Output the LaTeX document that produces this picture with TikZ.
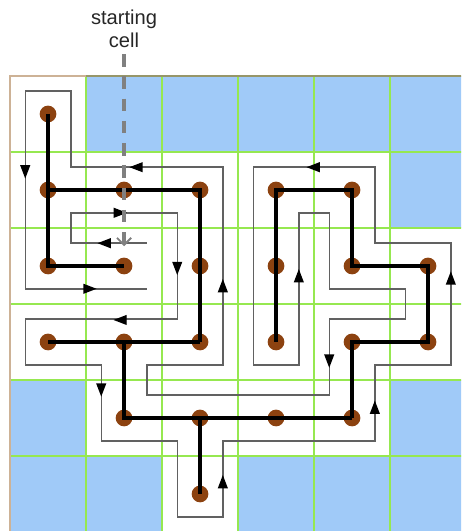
\documentclass[tikz,border=0pt]{standalone}
\usepackage{fontspec}
\setmainfont{Liberation Sans}
\usetikzlibrary{arrows.meta}
\definecolor{cellblue}{RGB}{160,202,248}
\definecolor{gridgreen}{RGB}{150,232,80}
\definecolor{dotbrown}{RGB}{140,66,16}
\definecolor{rimtan}{RGB}{205,178,150}
\definecolor{rimolive}{RGB}{150,150,105}

\begin{document}
\begin{tikzpicture}[x=1.5cm, y=1.5cm,
  dot/.style={circle, fill=dotbrown, inner sep=0pt, minimum size=3.3mm},
  tree/.style={line width=2.5pt, black},
  wall/.style={line width=0.8pt, black!62},
  flowtip/.style={line width=0.8pt, black, -{Triangle[length=7.5pt, width=5.5pt]}},
  gridline/.style={line width=1pt, gridgreen},
  pointer/.style={line width=2pt, black!50, dash pattern=on 7pt off 5.5pt,
    -{Straight Barb[length=4pt, width=8pt, line width=1pt]}}]
\useasboundingbox (-0.132,1) rectangle (5.934,-5.987);
\clip (-0.132,1) rectangle (5.934,-5.987);
% blocked cells
\foreach \c/\r in {1/0,2/0,3/0,4/0,5/0,5/1,0/4,5/4,0/5,1/5,3/5,4/5,5/5}
  \fill[cellblue] (\c,-\r) rectangle ++(1,-1);
\foreach \i in {1,...,5}{
  \draw[gridline] (\i,0) -- (\i,-6.1);
  \draw[gridline] (0,-\i) -- (6.1,-\i);
}
\draw[rimtan, line width=0.9pt] (0,-6.1) -- (0,0) -- (1,0);
\draw[rimolive, line width=0.9pt] (1,0) -- (6.1,0);
% wall-following route round the tree
\draw[wall] (1.8,-2.2) -- (0.8,-2.2) -- (0.8,-1.8) -- (2.2,-1.8) -- (2.2,-3.2)
  -- (0.2,-3.2) -- (0.2,-3.8) -- (1.2,-3.8) -- (1.2,-4.8) -- (2.2,-4.8)
  -- (2.2,-5.8) -- (2.8,-5.8) -- (2.8,-4.8) -- (4.8,-4.8) -- (4.8,-3.8)
  -- (5.8,-3.8) -- (5.8,-2.2) -- (4.8,-2.2) -- (4.8,-1.2) -- (3.2,-1.2)
  -- (3.2,-3.8) -- (3.8,-3.8) -- (3.8,-1.8) -- (4.2,-1.8) -- (4.2,-2.8)
  -- (5.2,-2.8) -- (5.2,-3.2) -- (4.2,-3.2) -- (4.2,-4.2) -- (1.8,-4.2)
  -- (1.8,-3.8) -- (2.8,-3.8) -- (2.8,-1.2) -- (0.8,-1.2) -- (0.8,-0.2)
  -- (0.2,-0.2) -- (0.2,-2.8) -- (1.8,-2.8);
\foreach \x/\y/\a in {0.2/-1.26/-90, 1.66/-1.2/180, 1.45/-1.8/0, 1.24/-2.2/180,
    1.05/-2.8/0, 2.2/-2.53/-90, 2.8/-2.76/90, 3.99/-1.2/180, 3.8/-2.63/90,
    5.8/-2.66/90, 1.45/-3.21/180, 1.2/-4.13/-90, 2.8/-5.34/90, 4.2/-3.75/-90,
    4.8/-4.36/90}
  \draw[flowtip] (\x,\y) -- ++(\a:0.09);
% cells of the tree
\foreach \c/\r in {0/0, 0/1,1/1,2/1,3/1,4/1, 0/2,1/2,2/2,3/2,4/2,5/2,
    0/3,1/3,2/3,3/3,4/3,5/3, 1/4,2/4,3/4,4/4, 2/5}
  \node[dot] (d\c\r) at (\c+0.5,-\r-0.5) {};
\draw[tree] (d00.center) -- (d01.center) -- (d02.center) -- (d12.center);
\draw[tree] (d01.center) -- (d11.center) -- (d21.center) -- (d22.center) -- (d23.center);
\draw[tree] (d03.center) -- (d13.center) -- (d23.center);
\draw[tree] (d13.center) -- (d14.center) -- (d24.center) -- (d34.center) -- (d44.center);
\draw[tree] (d24.center) -- (d25.center);
\draw[tree] (d44.center) -- (d43.center) -- (d53.center) -- (d52.center) -- (d42.center)
  -- (d41.center) -- (d31.center) -- (d32.center) -- (d33.center);
% starting cell pointer
\node[font=\fontsize{11.3}{13}\selectfont, align=center, text=black!85] (startlbl)
  at (1.5,0.62) {starting\\cell};
\coordinate (starttip) at (1.5,-2.24);
\draw[pointer] (startlbl.south) -- (starttip);
\end{tikzpicture}
\end{document}
